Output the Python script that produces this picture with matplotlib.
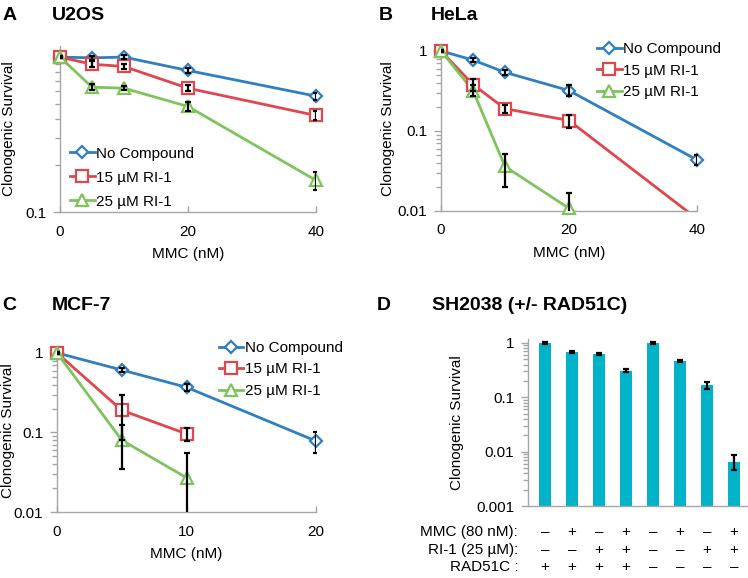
import numpy as np
import matplotlib
matplotlib.use("Agg")
import matplotlib.pyplot as plt
from matplotlib import transforms
from matplotlib.ticker import FixedLocator, NullFormatter

plt.rcParams["font.family"] = ["Liberation Sans", "DejaVu Sans"]

# ── data ─────────────────────────────────────────────────────────────────────
LABELS = ["No Compound", "15 µM RI-1", "25 µM RI-1"]

A_x = [0, 5, 10, 20, 40]
A_none = [1.0, 0.99, 1.0, 0.82, 0.56]
A_none_err = [0.02, 0.03, 0.03, 0.03, 0.03]
A_15 = [1.0, 0.90, 0.87, 0.63, 0.42]
A_15_err = [0.02, 0.04, 0.03, 0.03, 0.03]
A_25 = [1.0, 0.64, 0.63, 0.48, 0.16]
A_25_err = [0.02, 0.03, 0.02, 0.03, 0.022]

B_x = [0, 5, 10, 20, 40]
B_none = [1.0, 0.77, 0.54, 0.32, 0.0435]
B_none_err = [0.02, 0.04, 0.04, 0.05, 0.006]
B_15 = [1.0, 0.38, 0.19, 0.135, 0.008]
B_15_err = [0.03, 0.06, 0.02, 0.025, 0.0]
B_25_x = [0, 5, 10, 20]
B_25 = [1.0, 0.32, 0.036, 0.0108]
B_25_err = [0.03, 0.05, 0.016, 0.006]

C_x = [0, 5, 10, 20]
C_none = [1.0, 0.61, 0.37, 0.078]
C_none_err = [0.02, 0.03, 0.04, 0.023]
C_sub_x = [0, 5, 10]
C_15 = [1.0, 0.19, 0.096]
C_15_err = [0.03, 0.11, 0.018]
C_25 = [1.0, 0.08, 0.027]
C_25_err = [0.03, 0.045, 0.028]

D_vals = [1.0, 0.68, 0.62, 0.31, 1.0, 0.46, 0.165, 0.0065]
D_err = [0.03, 0.04, 0.03, 0.015, 0.04, 0.02, 0.025, 0.002]
D_rows = ["MMC (80 nM):", "RI-1 (25 µM):", "RAD51C :"]
D_mmc = ["–", "+", "–", "+", "–", "+", "–", "+"]
D_ri1 = ["–", "–", "+", "+", "–", "–", "+", "+"]
D_rad = ["+", "+", "+", "+", "–", "–", "–", "–"]

# ── style ────────────────────────────────────────────────────────────────────
BLUE = "#2f7fc1"
RED = "#e0474c"
GREEN = "#7dc45c"
TEAL = "#00b3c9"
GRAY = "#a6a6a6"
FS = 11

W, H = 748, 578
fig = plt.figure(figsize=(W / 100, H / 100), dpi=100)


def px_axes(l, t, r, b):
    return fig.add_axes([l / W, 1 - b / H, (r - l) / W, (b - t) / H])


def style_axes(ax, ylim, labeled):
    ax.set_yscale("log")
    ax.set_ylim(*ylim)
    for s in ("top", "right"):
        ax.spines[s].set_visible(False)
    for s in ("left", "bottom"):
        ax.spines[s].set_color(GRAY)
        ax.spines[s].set_linewidth(1.0)
    majors = [v for v in (0.001, 0.01, 0.1, 1) if ylim[0] <= v <= ylim[1] * 1.001]
    ax.yaxis.set_major_locator(FixedLocator(majors))
    ax.set_yticklabels([(f"{v:g}" if v in labeled else "") for v in majors])
    minors = []
    for dec in (0.001, 0.01, 0.1):
        minors += [dec * k for k in range(2, 10)]
    ax.yaxis.set_minor_locator(FixedLocator([m for m in minors if ylim[0] < m < ylim[1]]))
    ax.yaxis.set_minor_formatter(NullFormatter())
    ax.tick_params(axis="y", which="major", direction="out", length=5, width=1,
                   color=GRAY, labelsize=FS, pad=5)
    ax.tick_params(axis="y", which="minor", direction="out", length=3.5, width=1,
                   color=GRAY)
    ax.tick_params(axis="x", direction="in", length=4, width=1, color=GRAY,
                   labelsize=FS, pad=9)


def series(ax, x, y, err, color, marker, ms, label, ylo):
    x = np.asarray(x, float)
    y = np.asarray(y, float)
    err = np.asarray(err, float)
    ax.plot(x, y, color=color, lw=2, zorder=2)
    keep = y >= ylo
    ax.plot(x[keep], y[keep], ls="none", marker=marker, ms=ms, mfc="white",
            mec=color, mew=1.6, zorder=3, clip_on=False)
    ax.errorbar(x[keep], y[keep], yerr=err[keep], fmt="none", ecolor="black",
                elinewidth=1.6, capsize=2, capthick=1.6, zorder=4)
    # legend proxy
    ax.plot([], [], color=color, lw=2, marker=marker, ms=ms, mfc="white",
            mec=color, mew=1.6, label=label)


def curve_panel(ax, xs, ys, errs, ylo):
    specs = [(BLUE, "D", 6.5), (RED, "s", 8), (GREEN, "^", 8.5)]
    for x, y, e, (c, m, ms), lab in zip(xs, ys, errs, specs, LABELS):
        series(ax, x, y, e, c, m, ms, lab, ylo)
    ax.set_xlabel("MMC (nM)", fontsize=FS, labelpad=6)
    ax.set_ylabel("Clonogenic Survival", fontsize=FS)


def legend(ax, loc, anchor, spacing):
    ax.legend(loc=loc, bbox_to_anchor=anchor, frameon=False, fontsize=FS,
              handlelength=1.6, handletextpad=0.1, labelspacing=spacing,
              borderpad=0, borderaxespad=0)


# ── A: U2OS ──────────────────────────────────────────────────────────────────
axA = px_axes(60, 46, 316, 212)
style_axes(axA, (0.1, 1.18), labeled=[0.1])
curve_panel(axA, [A_x, A_x, A_x], [A_none, A_15, A_25],
            [A_none_err, A_15_err, A_25_err], 0.1)
axA.set_xlim(0, 40)
axA.set_xticks([0, 20, 40])
legend(axA, "lower left", (0.04, 0.02), 0.65)
axA.yaxis.set_label_coords(-0.172, 0.5)

# ── B: HeLa ──────────────────────────────────────────────────────────────────
axB = px_axes(441, 47, 697, 211)
style_axes(axB, (0.01, 1.12), labeled=[0.01, 0.1, 1])
curve_panel(axB, [B_x, B_x, B_25_x], [B_none, B_15, B_25],
            [B_none_err, B_15_err, B_25_err], 0.01)
axB.set_xlim(0, 40)
axB.set_xticks([0, 20, 40])
legend(axB, "upper left", (0.61, 1.03), 0.5)
axB.yaxis.set_label_coords(-0.18, 0.5)

# ── C: MCF-7 ─────────────────────────────────────────────────────────────────
axC = px_axes(57, 349, 316, 512)
style_axes(axC, (0.01, 1.12), labeled=[0.01, 0.1, 1])
curve_panel(axC, [C_x, C_sub_x, C_sub_x], [C_none, C_15, C_25],
            [C_none_err, C_15_err, C_25_err], 0.01)
axC.set_xlim(0, 20)
axC.set_xticks([0, 10, 20])
legend(axC, "upper left", (0.625, 1.05), 0.5)
axC.yaxis.set_label_coords(-0.162, 0.5)

# ── D: SH2038 bars ───────────────────────────────────────────────────────────
axD = px_axes(528, 339, 748, 506)
style_axes(axD, (0.001, 1.18), labeled=[0.001, 0.01, 0.1, 1])
D_x = np.arange(len(D_vals))
axD.bar(D_x, D_vals, width=0.45, color=TEAL, zorder=2)
axD.errorbar(D_x, D_vals, yerr=D_err, fmt="none", ecolor="black",
             elinewidth=1.6, capsize=2.5, capthick=1.6, zorder=3)
axD.set_xlim(-0.63, 7.52)
axD.set_xticks([])
axD.set_ylabel("Clonogenic Survival", fontsize=FS)
axD.yaxis.set_label_coords(-0.29, 0.5)

tr = transforms.blended_transform_factory(axD.transData, fig.transFigure)
for row_y, name, signs in zip([532, 550, 567], D_rows, [D_mmc, D_ri1, D_rad]):
    fy = 1 - row_y / H
    fig.text(518 / W, fy, name, ha="right", va="center", fontsize=FS)
    for xi, s in zip(D_x, signs):
        axD.text(xi, fy, s, transform=tr, ha="center", va="center",
                 fontsize=FS, clip_on=False)

# ── panel letters and titles ─────────────────────────────────────────────────
for lx, tx, y, letter, title in [(3, 52, 15, "A", "U2OS"),
                                 (379, 431, 15, "B", "HeLa"),
                                 (2, 52, 306, "C", "MCF-7"),
                                 (377, 432, 306, "D", "SH2038 (+/- RAD51C)")]:
    fig.text(lx / W, 1 - y / H, letter, fontsize=14, fontweight="bold",
             ha="left", va="center")
    fig.text(tx / W, 1 - y / H, title, fontsize=14, fontweight="bold",
             ha="left", va="center")

fig.savefig("out.png", dpi=100)
